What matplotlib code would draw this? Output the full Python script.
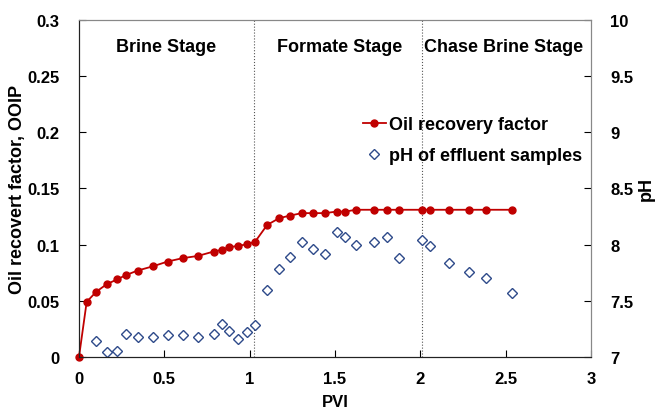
import numpy as np
import matplotlib.pyplot as plt

plt.rcParams['font.family'] = ['Liberation Sans', 'DejaVu Sans']
plt.rcParams['font.weight'] = 'bold'

# oil recovery factor vs PVI
pvi_oil = [0, 0.045, 0.101, 0.162, 0.223, 0.273, 0.344, 0.434, 0.519, 0.607, 0.697,
           0.789, 0.836, 0.881, 0.93, 0.986, 1.033, 1.103, 1.173, 1.236, 1.306, 1.37,
           1.442, 1.51, 1.562, 1.622, 1.73, 1.804, 1.875, 2.011, 2.06, 2.168, 2.287,
           2.383, 2.537]
oil_rf = [0, 0.049, 0.058, 0.0647, 0.069, 0.0727, 0.0769, 0.0807, 0.0849, 0.0879, 0.0899,
          0.0938, 0.0953, 0.0977, 0.0988, 0.1003, 0.1027, 0.1175, 0.1235, 0.1258, 0.128, 0.128,
          0.128, 0.1294, 0.1294, 0.131, 0.131, 0.131, 0.131, 0.131, 0.131, 0.131, 0.131,
          0.131, 0.131]

# pH of effluent samples
pvi_ph = [0.101, 0.162, 0.223, 0.273, 0.344, 0.434, 0.519, 0.607, 0.697, 0.789, 0.836,
          0.881, 0.93, 0.986, 1.033, 1.103, 1.173, 1.236, 1.306, 1.373, 1.443, 1.51,
          1.562, 1.623, 1.73, 1.804, 1.875, 2.011, 2.06, 2.168, 2.287, 2.383, 2.537]
ph = [7.145, 7.047, 7.05, 7.2, 7.175, 7.175, 7.199, 7.199, 7.175, 7.2, 7.294,
      7.234, 7.16, 7.223, 7.285, 7.6, 7.784, 7.893, 8.027, 7.962, 7.914, 8.116,
      8.069, 7.997, 8.027, 8.066, 7.885, 8.039, 7.991, 7.834, 7.754, 7.703, 7.567]

stage_bounds = [1.023, 2.01]
stage_names = ['Brine Stage', 'Formate Stage', 'Chase Brine Stage']
stage_x = [0.51, 1.53, 2.49]

fig = plt.figure(figsize=(6.55, 4.10), dpi=100)
ax = fig.add_axes([0.1206, 0.127, 0.7814, 0.822])
ax2 = ax.twinx()

red = '#C00000'
navy = '#2E4A8A'

l1, = ax.plot(pvi_oil, oil_rf, '-o', color=red, lw=1.3, ms=5, label='Oil recovery factor',
              zorder=3, clip_on=False)
l2, = ax2.plot(pvi_ph, ph, 'D', mfc='white', mec=navy, mew=1.0, ms=5.5,
               linestyle='none', label='pH of effluent samples')

for b in stage_bounds:
    ax.axvline(b, color='#555555', ls=':', lw=0.8)
for name, x in zip(stage_names, stage_x):
    ax.text(x, 0.2765, name, ha='center', va='center', fontsize=13, fontweight='bold')

ax.set_xlim(0, 3)
ax.set_ylim(0, 0.3)
ax2.set_ylim(7, 10)
ax.set_xticks(np.arange(0, 3.01, 0.5))
ax.set_xticklabels(['0', '0.5', '1', '1.5', '2', '2.5', '3'])
ax.set_yticks(np.arange(0, 0.301, 0.05))
ax.set_yticklabels(['0', '0.05', '0.1', '0.15', '0.2', '0.25', '0.3'])
ax2.set_yticks(np.arange(7, 10.01, 0.5))
ax2.set_yticklabels(['7', '7.5', '8', '8.5', '9', '9.5', '10'])

ax.tick_params(axis='x', direction='in', length=5, labelsize=12, pad=10)
ax.tick_params(axis='y', direction='in', length=5, labelsize=12, pad=14)
ax2.tick_params(direction='in', length=5, labelsize=12, pad=14)
for a in (ax, ax2):
    a.spines['top'].set_color('#888888')
    a.spines['right'].set_color('#888888')
    a.spines['left'].set_color('#222222')
    a.spines['bottom'].set_color('#222222')

ax.set_xlabel('PVI', fontsize=12, fontweight='bold', labelpad=6)
ax.set_ylabel('Oil recovert factor, OOIP', fontsize=13, fontweight='bold', labelpad=1)
ax2.set_ylabel('pH', fontsize=13, fontweight='bold', labelpad=3)

ax2.legend(handles=[l1, l2], loc='upper left', bbox_to_anchor=(0.54, 0.735), frameon=False,
           fontsize=13, handlelength=1.3, handletextpad=0.15, labelspacing=0.75,
           borderaxespad=0)

fig.savefig('out.png', dpi=100)
